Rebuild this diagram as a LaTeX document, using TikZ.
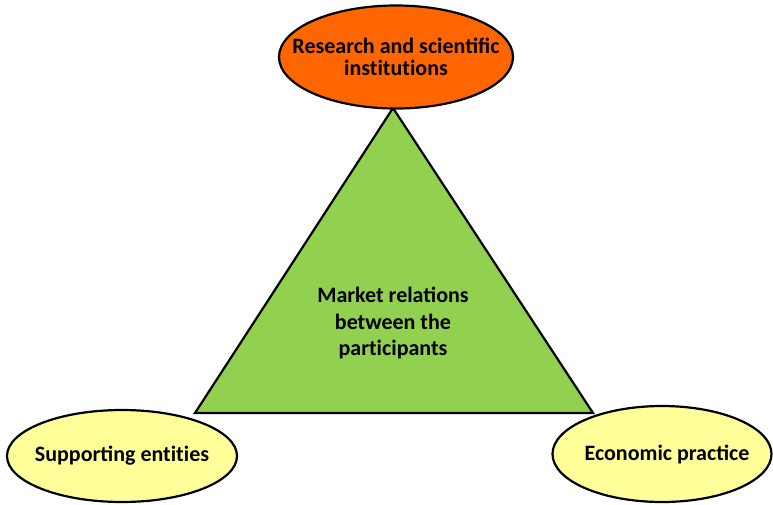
\documentclass[tikz,border=0pt]{standalone}
\usepackage{fontspec}
\setmainfont{Carlito}
\usetikzlibrary{shapes.geometric}
\definecolor{research}{HTML}{FF6600}
\definecolor{market}{HTML}{92D050}
\definecolor{partner}{HTML}{FFFF99}
\newcommand{\tisep}{t\kern0pt i}
\tikzset{
	actor/.style={ellipse,draw,line width=2.2pt,inner sep=0pt},
	tag/.style={align=center,inner sep=0pt,font=\bfseries\fontsize{22}{22.5}\selectfont},
}

\begin{document}
\begin{tikzpicture}[x=1pt,y=-1pt]
		\useasboundingbox (0,0) rectangle (773,504);
		% triangle of market relations
		\coordinate (apex) at (393,108);
		\coordinate (left) at (195,413);
		\coordinate (right) at (593,413);
		\draw[line width=2.2pt,line join=miter,fill=market] (apex) -- (left) -- (right) -- cycle;
		\node[tag,font=\bfseries\fontsize{22}{26.5}\selectfont] (market) at (393,323){Market relations\\between the\\par\tisep cipants};
		% the three participants
		\node[actor,fill=research,minimum width=234pt,minimum height=103pt,label={[tag]center:{Research and scientific\\ins\tisep tu\tisep ons}}] (science) at (396,57){};
		\node[actor,fill=partner,minimum width=230pt,minimum height=92pt,label={[tag]center:{Supporting en\tisep\tisep es}}] (support) at (122,456){};
		\node[actor,fill=partner,minimum width=219pt,minimum height=96pt,label={[tag,xshift=5pt]center:{Economic practice}}] (economy) at (662,454){};
	\end{tikzpicture}
\end{document}
